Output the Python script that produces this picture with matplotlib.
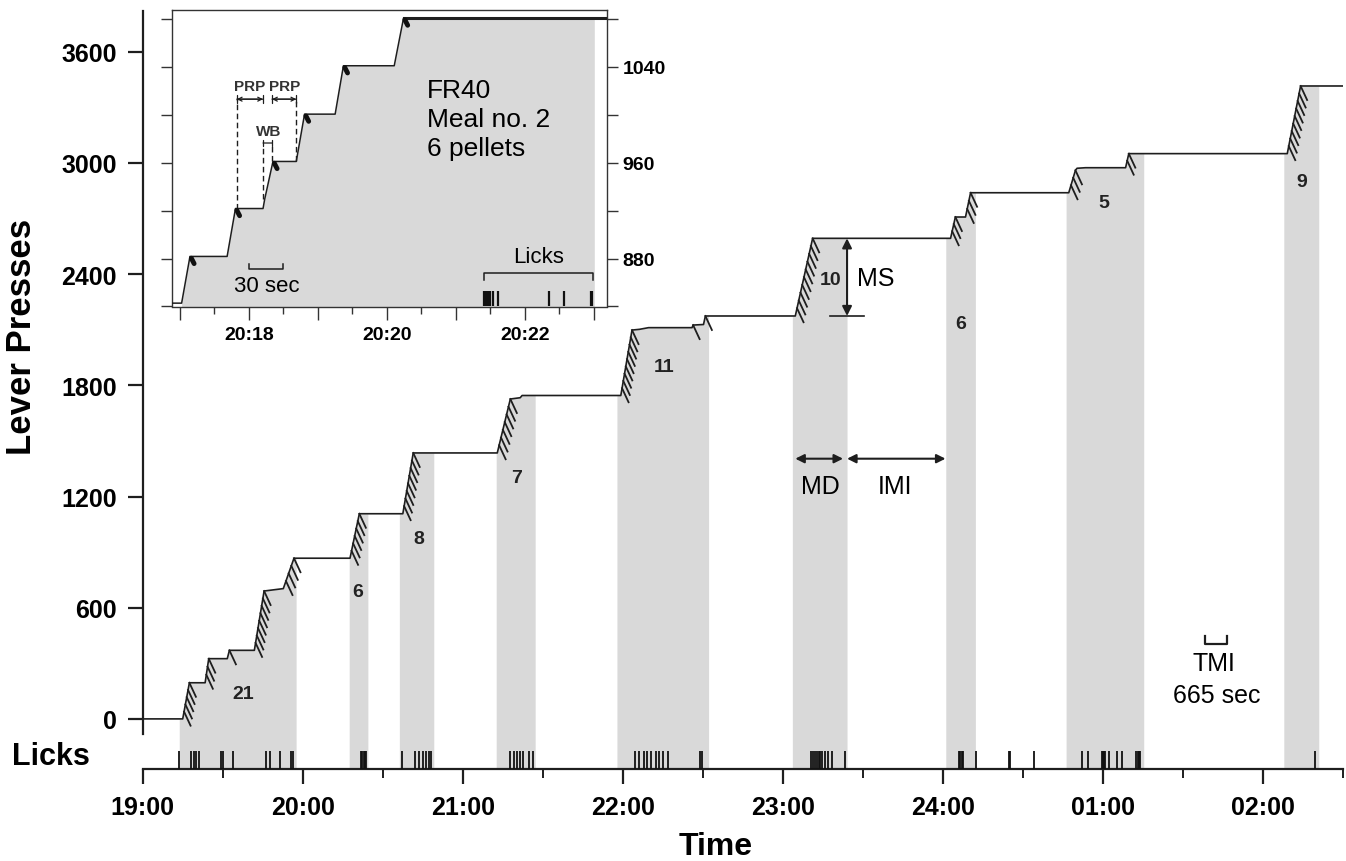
import matplotlib.pyplot as plt
import numpy as np

plt.rcParams['font.family'] = ['Liberation Sans', 'DejaVu Sans']

# cumulative record, minutes after 19:00 and lever presses
press_t = [0, 15.0, 17.5, 23.4, 24.75, 31.7, 32.5, 41.85, 45.5, 52.7, 56.7,
           77.7, 81.2, 97.5, 101.4, 132.9, 137.8, 141.5, 142.2,
           179.2, 183.4, 186.2, 189.6, 205.9, 206.3, 210.2, 210.9,
           244.6, 251.1, 302.8, 304.6, 308.4, 310.3,
           347.1, 349.6, 350.2, 353.4, 368.4, 369.6, 429.0, 434.0, 450]
press_n = [0, 0, 195, 195, 325, 325, 370, 370, 690, 703, 867,
           867, 1107, 1107, 1435, 1435, 1726, 1733, 1745,
           1745, 2098, 2102, 2111, 2111, 2125, 2128, 2174,
           2174, 2593, 2593, 2708, 2708, 2839,
           2839, 2960, 2971, 2974, 2974, 3050, 3050, 3415, 3415]
# pellets (hatch marks) earned on the segment ending at each point
pellets = [0, 0, 5, 0, 3, 0, 1, 0, 8, 0, 4,
           0, 6, 0, 8, 0, 7, 0, 0,
           0, 9, 0, 0, 0, 1, 0, 1,
           0, 10, 0, 3, 0, 3,
           0, 3, 0, 0, 0, 2, 0, 9, 0]

meal_start = [13.7, 77.4, 96.2, 132.5, 177.75, 243.5, 301.0, 346.1, 427.7]
meal_end = [57.5, 84.4, 109.1, 147.1, 212.1, 264.0, 312.1, 375.2, 440.8]
meal_pellets = ['21', '6', '8', '7', '11', '10', '6', '5', '9']
label_t = [37.7, 80.5, 103.4, 140.1, 195.5, 257.8, 306.5, 360.2, 434.6]
label_n = [136, 690, 974, 1305, 1904, 2372, 2131, 2785, 2899]

licks = [13.7, 18.0, 19.2, 20.1, 21.0, 29.3, 30.2, 33.8, 46.1, 47.6, 51.5, 55.6, 56.2,
         81.8, 82.3, 82.8, 83.3, 83.8,
         97.2, 101.9, 103.4, 105.0, 106.0, 107.2, 108.0,
         137.8, 139.0, 140.2, 141.5, 142.7, 144.9, 146.2,
         184.7, 186.1, 187.8, 189.2, 190.6, 192.3, 193.7, 195.1, 196.8, 208.7, 209.8,
         250.4, 251.2, 252.1, 252.7, 253.3, 254.0, 254.6, 255.6, 256.9, 258.5, 263.3,
         305.8, 306.3, 306.9, 307.4, 312.2,
         324.7, 325.1, 334.0,
         352.0, 354.4, 359.5, 359.9, 360.4, 360.8, 362.1, 365.3, 367.2,
         372.4, 372.9, 373.4, 373.8,
         439.5]

hour_ticks = [0, 60, 120, 180, 240, 300, 360, 420]
hour_labels = ['19:00', '20:00', '21:00', '22:00', '23:00', '24:00', '01:00', '02:00']
press_ticks = [0, 600, 1200, 1800, 2400, 3000, 3600]

# inset: meal no. 2, minutes after 20:17
ins_t = [-0.12, 0.024, 0.145, 0.684, 0.805, 1.205, 1.229, 1.349, 1.687, 1.807,
         2.251, 2.371, 3.108, 3.243, 6.19]
ins_n = [842.8, 842.8, 881.8, 881.8, 921.8, 921.8, 929.6, 961.1, 961.1, 1000.6,
         1000.6, 1041.0, 1041.0, 1080.8, 1080.8]
ins_pellet_idx = [2, 4, 7, 9, 11, 13]
ins_licks = [4.41, 4.43, 4.45, 4.47, 4.50, 4.54, 4.61, 5.35, 5.57, 5.96, 5.98]
ins_meal = (0.024, 6.01)

gray = '#d9d9d9'
ink = '#1e1e1e'
ybot = -268.7

fig = plt.figure(figsize=(13.46, 8.62), dpi=100)
ax = fig.add_axes([142.7 / 1346, 92.3 / 862, 1200.6 / 1346, 757.7 / 862])
ax.set_xlim(0, 450)
ax.set_ylim(ybot, 3819.6)

# shaded meals, filled up to the record
for s, e in zip(meal_start, meal_end):
    xs = [s] + [t for t in press_t if s < t < e] + [e]
    ys = np.interp(xs, press_t, press_n)
    ax.fill_between(xs, ybot, ys, color=gray, lw=0, zorder=1)

ax.plot(press_t, press_n, color=ink, lw=1.2, zorder=3)

# pellet hatch marks
hx = 6.5 * 0.375
hy = 14 / 0.18533
for i in range(1, len(press_t)):
    n = pellets[i]
    for k in range(1, n + 1):
        f = k / n
        t = press_t[i - 1] + f * (press_t[i] - press_t[i - 1])
        v = press_n[i - 1] + f * (press_n[i] - press_n[i - 1])
        ax.plot([t, t + hx], [v, v - hy], color=ink, lw=1.3, zorder=3)

ax.vlines(licks, ybot, -173, color='#111111', lw=1.3, zorder=3)

for txt, t, v in zip(meal_pellets, label_t, label_n):
    ax.text(t, v, txt, fontsize=14, fontweight='bold', ha='center', va='center', color='#222222')

# axes styling
for sp in ['top', 'right']:
    ax.spines[sp].set_visible(False)
ax.spines['left'].set_bounds(-80, 3819.6)
for sp in ['left', 'bottom']:
    ax.spines[sp].set_linewidth(1.6)
    ax.spines[sp].set_color(ink)
ax.set_yticks(press_ticks)
ax.set_yticklabels([str(p) for p in press_ticks], fontweight='bold')
ax.set_xticks(hour_ticks)
ax.set_xticklabels(hour_labels, fontweight='bold')
ax.set_xticks([30, 90, 150, 210, 270, 330, 390, 450], minor=True)
ax.tick_params(axis='both', which='major', length=10.8, width=1.6, labelsize=18, color=ink)
ax.tick_params(axis='x', which='major', pad=8)
ax.tick_params(axis='y', which='major', pad=8)
ax.tick_params(axis='x', which='minor', length=6.5, width=1.4, color=ink)

fig.text(22 / 1346, 1 - 337 / 862, 'Lever Presses', rotation=90, ha='center', va='center',
         fontsize=25, fontweight='bold')
fig.text(51 / 1346, 1 - 757 / 862, 'Licks', ha='center', va='center', fontsize=22, fontweight='bold')
fig.text(716 / 1346, 1 - 847 / 862, 'Time', ha='center', va='center', fontsize=23, fontweight='bold')

# MS / MD / IMI / TMI annotations
ax.annotate('', xy=(264.0, 2593), xytext=(264.0, 2174),
            arrowprops=dict(arrowstyle='<|-|>', color=ink, lw=1.5, mutation_scale=14,
                            shrinkA=0, shrinkB=0))
ax.plot([257.5, 270.2], [2174, 2174], color=ink, lw=1.2)
ax.text(267.7, 2381, 'MS', fontsize=18, ha='left', va='center')
ax.annotate('', xy=(244.6, 1404), xytext=(262.5, 1404),
            arrowprops=dict(arrowstyle='<|-|>', color=ink, lw=1.5, mutation_scale=13,
                            shrinkA=0, shrinkB=0))
ax.annotate('', xy=(264.0, 1404), xytext=(300.9, 1404),
            arrowprops=dict(arrowstyle='<|-|>', color=ink, lw=1.5, mutation_scale=13,
                            shrinkA=0, shrinkB=0))
ax.text(254.0, 1257, 'MD', fontsize=18, ha='center', va='center')
ax.text(281.85, 1257, 'IMI', fontsize=18, ha='center', va='center')
ax.plot([398.0, 398.0, 406.5, 406.5], [447, 404, 404, 447], color=ink, lw=1.6)
ax.text(401.5, 303, 'TMI', fontsize=18, ha='center', va='center')
ax.text(402.75, 129, '665 sec', fontsize=18, ha='center', va='center')

# inset
ins = fig.add_axes([171.7 / 1346, (862 - 307.5) / 862, 435 / 1346, 296.8 / 862])
ins.set_facecolor('white')
ins.set_xlim(-0.12, 6.19)
ins.set_ylim(840, 1087.8)
xs = [ins_meal[0]] + [t for t in ins_t if ins_meal[0] < t < ins_meal[1]] + [ins_meal[1]]
ins.fill_between(xs, 840, np.interp(xs, ins_t, ins_n), color=gray, lw=0, zorder=1)
ins.plot(ins_t, ins_n, color=ink, lw=1.1, zorder=3)
ins.plot(ins_t[-2:], ins_n[-2:], color=ink, lw=2.2, zorder=3)
for i in ins_pellet_idx:
    t, v = ins_t[i], ins_n[i]
    ins.plot([t + 0.02, t + 0.06], [v - 1.5, v - 6], color='#111111', lw=3.5,
             solid_capstyle='round', zorder=4)
ins.vlines(ins_licks, 840, 853, color='#111111', lw=1.6, zorder=3)

# PRP / WB markers
dash = dict(color=ink, lw=1.0, ls=(0, (4, 2.5)))
ins.plot([0.824, 0.824], [921.8, 1013.1], **dash)
ins.plot([1.687, 1.687], [961.1, 1013.1], **dash)
ins.plot([1.205, 1.205], [929.6, 974.2], **dash)
ins.plot([1.335, 1.335], [961.1, 974.2], **dash)
for a, b in [(0.824, 1.205), (1.335, 1.687)]:
    ins.annotate('', xy=(a, 1013.1), xytext=(b, 1013.1),
                 arrowprops=dict(arrowstyle='|-|', color=ink, lw=0.9, mutation_scale=3,
                                 shrinkA=0, shrinkB=0))
    ins.annotate('', xy=(a, 1013.1), xytext=(b, 1013.1),
                 arrowprops=dict(arrowstyle='<->', color=ink, lw=0.9, mutation_scale=7,
                                 shrinkA=0, shrinkB=0))
ins.annotate('', xy=(1.205, 976.5), xytext=(1.335, 976.5),
             arrowprops=dict(arrowstyle='|-|', color=ink, lw=0.9, mutation_scale=2,
                             shrinkA=0, shrinkB=0))
ins.text(1.014, 1023.9, 'PRP', fontsize=11, fontweight='bold', ha='center', va='center', color='#333333')
ins.text(1.522, 1023.9, 'PRP', fontsize=11, fontweight='bold', ha='center', va='center', color='#333333')
ins.text(1.28, 986.8, 'WB', fontsize=11, fontweight='bold', ha='center', va='center', color='#333333')

ins.plot([0.998, 0.998, 1.494, 1.494], [875.4, 871.7, 871.7, 875.4], color=ink, lw=1.1)
ins.text(1.257, 857.4, '30 sec', fontsize=16, ha='center', va='center')
ins.plot([4.41, 4.41, 5.986, 5.986], [862.3, 867.8, 867.8, 862.3], color=ink, lw=1.1)
ins.text(5.203, 881.9, 'Licks', fontsize=16, ha='center', va='center')
ins.text(3.584, 1030.5, 'FR40\nMeal no. 2\n6 pellets', fontsize=19, ha='left', va='top',
         linespacing=1.25)

for sp in ins.spines.values():
    sp.set_linewidth(1.0)
    sp.set_color('#333333')
ins.set_xticks([0, 1, 2, 3, 4, 5, 6])
ins.set_xticklabels(['', '20:18', '', '20:20', '', '20:22', ''], fontweight='bold')
ins.set_xticks([0.5, 1.5, 2.5, 3.5, 4.5, 5.5], minor=True)
ins.set_yticks([880, 960, 1040])
ins.set_yticklabels(['880', '960', '1040'], fontweight='bold')
ins.set_yticks([840, 920, 1000, 1080], minor=True)
ins.tick_params(axis='y', which='both', left=True, right=True, labelleft=False,
                labelright=True, length=8, width=1.0, labelsize=14, pad=3.5, color='#333333')
ins.tick_params(axis='x', which='major', length=9, width=1.0, labelsize=14, pad=5, color='#333333')
ins.tick_params(axis='x', which='minor', length=5, width=1.0, color='#333333')

fig.savefig('out.png', dpi=100)
